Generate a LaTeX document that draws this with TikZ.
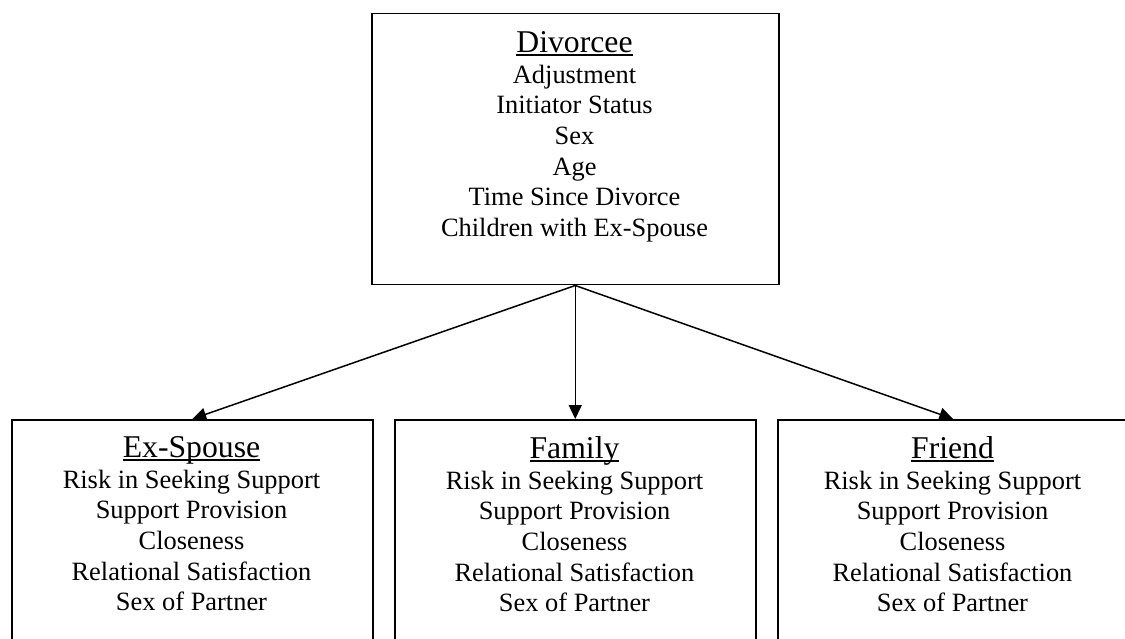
\documentclass[tikz,border=0pt]{standalone}
\usepackage{fontspec}
\setmainfont{Liberation Serif}
\usetikzlibrary{arrows.meta,calc}
\newcommand\ulin[1]{\setbox0\hbox{#1}\rlap{\rule[-3.4pt]{\wd0}{1.4pt}}\box0}
\tikzset{
  boxnode/.style={draw, line width=1.5pt, rectangle, inner sep=0pt, anchor=north west},
  txt/.style={align=center, anchor=north, inner sep=0pt, font=\fontsize{26.4}{30.7}\selectfont},
  ttl/.style={},
  arr/.style={line width=1.5pt, -{Triangle[length=14pt,width=13pt]}}
}
\newcommand\ttlfont{\fontsize{31.7}{30.7}\selectfont}
\begin{document}
\begin{tikzpicture}[x=1pt,y=-1pt]
\useasboundingbox (0,0) rectangle (1125,639);
\clip (0,0) rectangle (1125,639);
\node[boxnode, minimum width=407pt, minimum height=271pt] (div) at (371,13) {};
\node[boxnode, minimum width=361pt, minimum height=300pt] (exs) at (11,419) {};
\node[boxnode, minimum width=361pt, minimum height=300pt] (fam) at (394,419) {};
\node[boxnode, minimum width=351pt, minimum height=300pt] (fri) at (777,419) {};
\node[txt] (divt) at (574.5,31.3) {{\ttlfont\ulin{Divorcee}}\\Adjustment\\Initiator Status\\Sex\\Age\\Time Since Divorce\\Children with Ex-Spouse};
\node[txt] (exst) at (191.5,436.3) {{\ttlfont\ulin{Ex-Spouse}}\\Risk in Seeking Support\\Support Provision\\Closeness\\Relational Satisfaction\\Sex of Partner};
\node[txt] (famt) at (574.5,436.3) {{\ttlfont\ulin{Family}}\\Risk in Seeking Support\\Support Provision\\Closeness\\Relational Satisfaction\\Sex of Partner};
\node[txt] (frit) at (952.5,436.3) {{\ttlfont\ulin{Friend}}\\Risk in Seeking Support\\Support Provision\\Closeness\\Relational Satisfaction\\Sex of Partner};
\draw[arr] (div.south) -- (exs.north);
\draw[arr] (div.south) -- (fam.north);
\draw[arr] (div.south) -- (fri.north);
\end{tikzpicture}
\end{document}
